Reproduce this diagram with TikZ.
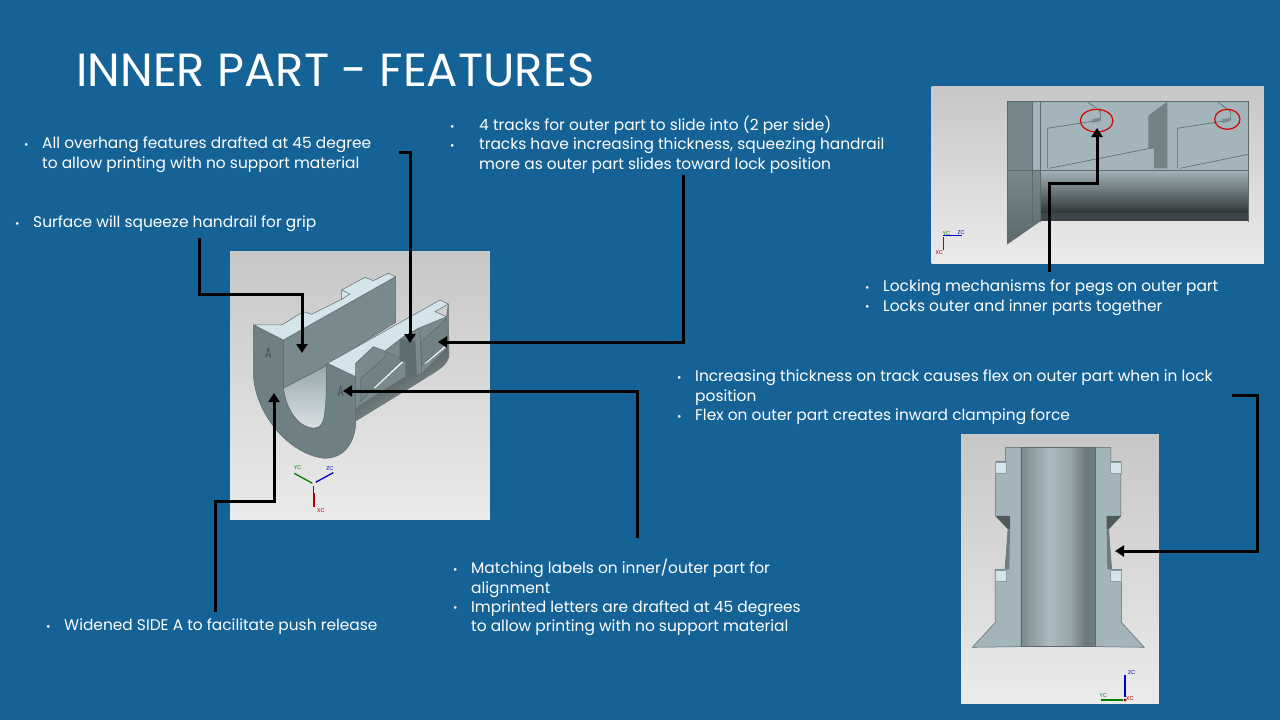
\documentclass[tikz,border=0pt]{standalone}
\usepackage{fontspec}
\setmainfont{Poppins}
\usetikzlibrary{arrows.meta,positioning}
\definecolor{slide}{HTML}{156297}
\definecolor{faceGray}{HTML}{6E8084}
\definecolor{wallGray}{HTML}{788A8E}
\definecolor{topLight}{HTML}{D3E5EB}
\definecolor{bodyGray}{HTML}{A3B4BA}
\definecolor{edgeGray}{HTML}{5A6A6E}
\pgfdeclarehorizontalshading{boreshade}{100bp}{color(0bp)=(black!22!bodyGray); color(25bp)=(black!25!bodyGray); color(31bp)=(black!14!bodyGray); color(44bp)=(bodyGray!92!white); color(58bp)=(black!8!bodyGray); color(68bp)=(black!33!bodyGray); color(75bp)=(black!30!bodyGray); color(100bp)=(black!30!bodyGray)}
\begin{document}
\begin{tikzpicture}[x=1pt,y=-1pt,>=Stealth]
  \tikzset{
    note/.style={anchor=north west, inner sep=0pt, align=left, text=white, font=\fontsize{15.42}{19.3}\selectfont},
    heading/.style={anchor=north west, inner sep=0pt, text=white, font=\fontsize{46.5}{50}\selectfont},
    conn/.style={line width=3pt, black, -{Triangle[length=9pt,width=11pt]}},
    backdrop/.style={top color=black!22, bottom color=black!8, draw=none},
    edge/.style={draw=edgeGray, line width=0.5pt},
    thin/.style={draw=edgeGray, line width=0.6pt},
    letter/.style={text=black!35!faceGray, font=\fontsize{15}{15}\selectfont, inner sep=0pt},
    triad/.style={font=\fontsize{5.5}{6}\selectfont, inner sep=0pt}
  }
  \newcommand{\bul}[1][18pt]{\makebox[#1][l]{\raisebox{0.5pt}{\scalebox{0.7}{•}}}}
  \useasboundingbox (0,0) rectangle (1280,720);
  \fill[slide] (0,0) rectangle (1280,720);
  \node[heading] (title) at (76,53) {INNER PART - FEATURES};

  % inner part view
  \begin{scope}[xshift=225pt,yshift=-245pt,x=0.3333pt,y=-0.3333pt]
    \shade[backdrop] (15,18) rectangle (795,825);
    % channel wall
    \fill[wallGray,edge] (175,285) -- (512,95) -- (512,232) -- (305,360) -- (175,430) -- cycle;
    \shade[top color=bodyGray!70!wallGray, middle color=white!85!topLight, bottom color=white!60!bodyGray, edge] (175,430) -- (305,362) -- (305,500) .. controls (300,530) and (285,550) .. (265,550) .. controls (225,550) and (185,500) .. (175,430) -- cycle;
    % side walls
    \fill[wallGray,edge] (392,355) -- (445,305) -- (480,318) -- (535,275) -- (580,250) -- (665,215) -- (670,177) -- (672,335) -- (600,400) -- (392,528) -- cycle;
    \fill[black!6!wallGray,edge] (407,400) -- (482,335) -- (482,320) -- (527,340) -- (527,352) -- (405,470) -- cycle;
    \fill[black!6!wallGray,edge] (590,290) -- (665,220) -- (668,300) -- (590,360) -- cycle;
    \fill[white!80!topLight] (445,430) -- (530,350) -- (534,352) -- (452,428) -- cycle;
    \fill[white!80!topLight] (597,357) -- (660,303) -- (664,305) -- (605,354) -- cycle;
    % slot
    \fill[black!14!faceGray,edge] (525,280) -- (570,290) -- (575,392) -- (543,392) -- (543,350) -- (525,345) -- cycle;
    \fill[wallGray,edge] (570,255) -- (585,250) -- (590,385) -- (575,392) -- (570,290) -- cycle;
    % lower cylinder
    \shade[top color=black!55!wallGray, bottom color=wallGray!75!white, shading angle=30] (392,490) -- (405,480) -- (540,395) -- (590,385) -- (670,305) -- (672,335) .. controls (668,360) and (640,378) .. (600,400) -- (392,528) -- cycle;
    % end face
    \fill[faceGray,edge] (85,240) -- (175,285) -- (175,430) .. controls (185,510) and (230,550) .. (270,550) .. controls (295,550) and (305,525) .. (305,355) -- (392,395) -- (392,540) .. controls (385,610) and (345,640) .. (300,640) .. controls (190,630) and (85,500) .. (85,380) -- cycle;
    % top ledges
    \fill[topLight,edge] (87,240) -- (170,240) -- (235,200) -- (260,208) -- (350,163) -- (350,135) -- (420,97) -- (445,107) -- (490,85) -- (512,95) -- (175,285) -- cycle;
    \draw[edge] (350,135) -- (375,147) -- (350,163);
    \fill[topLight,edge] (308,355) -- (645,165) -- (670,177) -- (630,200) -- (665,215) -- (580,250) -- (535,275) -- (480,318) -- (445,305) -- (392,355) -- (392,395) -- cycle;
    \node[letter] (letterLeft) at (130,325) {\scalebox{0.65}[1]{A}};
    \node[letter] (letterRight) at (347,438) {\scalebox{0.65}[1]{A}};
    % triad
    \draw[green!50!black,line width=1.3pt] (208,685) -- (262,715);
    \draw[blue!80!black,line width=1.3pt] (272,712) -- (325,683);
    \draw[red!70!black,line width=2pt] (266,745) -- (266,785);
    \draw[red!70!black,line width=0.7pt] (266,722) -- (266,745);
    \node[triad,text=green!50!black] (yc) at (218,668) {YC};
    \node[triad,text=blue!80!black] (zc) at (315,670) {ZC};
    \node[triad,text=red!70!black] (xc) at (288,797) {XC};
  \end{scope}

  % locking view
  \begin{scope}[xshift=930pt,yshift=-85pt,x=0.3333pt,y=-0.3333pt]
    \shade[backdrop] (5,5) rectangle (1002,537);
    \fill[bodyGray] (330,50) rectangle (955,255);
    \shade[top color=bodyGray, bottom color=black!62!wallGray] (330,255) rectangle (955,385);
    \fill[black!50!wallGray] (330,385) rectangle (955,408);
    \fill[black!3!wallGray] (232,50) rectangle (308,255);
    \fill[bodyGray] (308,50) rectangle (330,255);
    \shade[top color=wallGray, bottom color=black!25!wallGray] (232,255) -- (330,255) -- (330,410) -- (232,478) -- cycle;
    \fill[black!5!wallGray] (655,92) -- (712,50) -- (712,250) -- (672,250) -- (672,190) -- (655,190) -- cycle;
    \draw[thin] (232,478) -- (232,50) -- (955,50) -- (955,410) (232,255) -- (955,255) (308,50) -- (308,410) (330,50) -- (330,410);
    \draw[thin] (472,50) -- (512,80) -- (512,105) -- (352,130) -- (352,250);
    \draw[thin] (358,250) -- (670,188);
    \draw[thin] (862,50) -- (902,80) -- (902,105) -- (742,130) -- (742,250);
    \draw[thin] (750,250) -- (955,208);
    \fill[wallGray] (487,103) -- (512,98) -- (512,108) -- (487,114) -- cycle;
    \fill[wallGray] (877,103) -- (902,98) -- (902,108) -- (877,114) -- cycle;
    \draw[red!85!black,line width=1.2pt] (500,107) ellipse [x radius=49,y radius=34];
    \draw[red!85!black,line width=1.2pt] (892,103) ellipse [x radius=38,y radius=30];
    \draw[blue!80!black,line width=1.1pt] (40,452) -- (95,452);
    \draw[red!70!black,line width=1.1pt] (40,456) -- (40,495);
    \node[triad,text=green!50!black] (yc2) at (50,446) {YC};
    \node[triad,text=blue!80!black] (zc2) at (94,442) {ZC};
    \node[triad,text=red!70!black] (xc2) at (28,504) {XC};
  \end{scope}

  % section view
  \begin{scope}[xshift=955pt,yshift=-430pt,x=0.3333pt,y=-0.3333pt]
    \shade[backdrop] (18,12) rectangle (612,820);
    \foreach \side/\cx in {1/0,-1/620}{
      \begin{scope}[xshift=\cx*0.3333pt,xscale=\side]
        \fill[bodyGray,edge] (152,52) -- (198,52) -- (198,650) -- (52,652) -- (120,578) -- (120,418) -- (150,418) -- (160,298) -- (122,258) -- (122,95) -- (152,95) -- cycle;
        \fill[black!35!wallGray] (122,258) -- (165,258) -- (165,298) -- (160,298) -- cycle;
        \fill[black!10!wallGray] (150,418) -- (158,298) -- (165,298) -- (163,418) -- cycle;
        \fill[topLight,draw=bodyGray!70!edgeGray,line width=0.4pt] (122,97) rectangle (155,130);
        \fill[topLight,draw=bodyGray!70!edgeGray,line width=0.4pt] (122,420) rectangle (155,455);
      \end{scope}
    }
    \shade[shading=boreshade,edge] (198,52) rectangle (422,650);
    \draw[blue!80!black,line width=1.3pt] (510,735) -- (510,800);
    \draw[green!50!black,line width=1.3pt] (437,810) -- (505,810);
    \fill[red!70!black] (510,810) circle (5);
    \node[triad,text=blue!80!black] (zc3) at (530,727) {ZC};
    \node[triad,text=green!50!black] (yc3) at (445,798) {YC};
    \node[triad,text=red!70!black] (xc3) at (525,805) {XC};
  \end{scope}

  % notes
  \node[note] (overhangNote) at (24,137) {\bul All overhang features drafted at 45 degree\\\hspace*{18pt}to allow printing with no support material};
  \node[note] (surfaceNote) at (15,216) {\bul Surface will squeeze handrail for grip};
  \node[note] (tracksNote) at (450,116) {\bul[29pt]4 tracks for outer part to slide into (2 per side)\\\bul[29pt]tracks have increasing thickness, squeezing handrail\\\hspace*{29pt}more as outer part slides toward lock position};
  \node[note] (lockNote) at (865,280) {\bul Locking mechanisms for pegs on outer part\\\bul Locks outer and inner parts together};
  \node[note] (flexNote) at (677,370) {\bul Increasing thickness on track causes flex on outer part when in lock\\\hspace*{18pt}position\\\bul Flex on outer part creates inward clamping force};
  \node[note] (labelNote) at (453,559) {\bul Matching labels on inner/outer part for\\\hspace*{18pt}alignment\\\bul Imprinted letters are drafted at 45 degrees\\\hspace*{18pt}to allow printing with no support material};
  \node[note] (sideNote) at (46,619) {\bul Widened SIDE A to facilitate push release};

  % connectors
  \coordinate (surfaceTail) at (199,238);
  \coordinate (surfaceBend) at (302,294);
  \coordinate (surfaceHead) at (302,353);
  \draw[conn] (surfaceTail) |- (surfaceBend) -- (surfaceHead);
  \coordinate (overhangTail) at (399,152);
  \coordinate (overhangHead) at (410,343);
  \draw[conn] (overhangTail) -| (overhangHead);
  \coordinate (tracksTail) at (683,175);
  \coordinate (tracksHead) at (438,342);
  \draw[conn] (tracksTail) |- (tracksHead);
  \coordinate (labelTail) at (637,538);
  \coordinate (labelHead) at (343,391);
  \draw[conn] (labelTail) |- (labelHead);
  \coordinate (sideTail) at (215,612);
  \coordinate (sideBend) at (274,501);
  \coordinate (sideHead) at (274,393);
  \draw[conn] (sideTail) |- (sideBend) -- (sideHead);
  \coordinate (lockTail) at (1049,272);
  \coordinate (lockBend) at (1097,183);
  \coordinate (lockHead) at (1097,128);
  \draw[conn] (lockTail) |- (lockBend) -- (lockHead);
  \coordinate (flexTail) at (1232,395);
  \coordinate (flexBend) at (1257,551);
  \coordinate (flexHead) at (1115,551);
  \draw[conn] (flexTail) -| (flexBend) -- (flexHead);
\end{tikzpicture}
\end{document}
